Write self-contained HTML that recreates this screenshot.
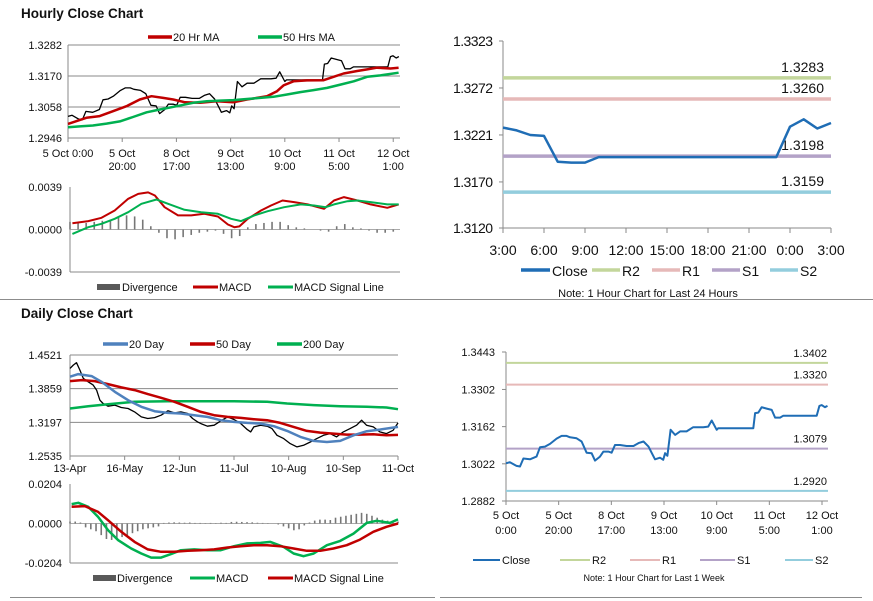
<!DOCTYPE html>
<html><head><meta charset="utf-8"><style>
html,body{margin:0;padding:0;background:#fff;}
svg{display:block;font-family:"Liberation Sans",Arial,sans-serif;}
</style></head><body>
<svg id="root" width="873" height="601" viewBox="0 0 873 601" xmlns="http://www.w3.org/2000/svg">
<rect x="0" y="0" width="873" height="601" fill="#fff"/>
<line x1="0" y1="299.5" x2="873" y2="299.5" stroke="#8c8c8c" stroke-width="1"/>
<line x1="10" y1="597.5" x2="435" y2="597.5" stroke="#8c8c8c" stroke-width="1"/>
<line x1="440" y1="597.5" x2="862" y2="597.5" stroke="#8c8c8c" stroke-width="1"/>
<text x="21" y="18" font-size="13.5" font-weight="bold" fill="#111">Hourly Close Chart</text>
<text x="21" y="318" font-size="13.5" font-weight="bold" fill="#111">Daily Close Chart</text>
<g id="charts"></g>
</svg>
<script>
// ===== Hourly (1 week) data =====
const weekHours = [0,1.5,4,5.3,6.6,9.1,11.6,12.9,14.8,16.7,19.2,21.1,23,24.3,26.8,28.7,30.6,32.5,33.8,35.7,37,38.9,40.1,41.4,43.3,45.8,48.4,50.3,52.2,54.1,55.3,56.6,58.5,59.7,60.4,61.3,62.5,64.2,66.1,68.6,71.1,74.9,76.8,78.1,80,80.6,85.1,93.9,94.6,95.8,97.1,99,100.9,102.2,104.1,105.3,110.4,118,119,119.9,121.1,122.1];
const weekClose = [1.3024,1.3028,1.3014,1.3012,1.3042,1.3039,1.3049,1.3084,1.3087,1.3097,1.3117,1.3127,1.3127,1.3122,1.3118,1.3106,1.3064,1.3062,1.3034,1.3049,1.3068,1.3068,1.3064,1.3093,1.3093,1.3089,1.3089,1.3100,1.3106,1.3087,1.3064,1.3039,1.3045,1.3037,1.3062,1.3052,1.3150,1.3131,1.3144,1.3144,1.3160,1.3160,1.3162,1.3185,1.3150,1.3156,1.3156,1.3156,1.3213,1.3215,1.3235,1.3230,1.3225,1.3196,1.3196,1.3203,1.3203,1.3203,1.3240,1.3243,1.3235,1.3240];
const weekTickLabels = [["5 Oct","0:00"],["5 Oct","20:00"],["8 Oct","17:00"],["9 Oct","13:00"],["10 Oct","9:00"],["11 Oct","5:00"],["12 Oct","1:00"]];
const weekTickHours = [0,20,40,60,80,100,120];
const ma20Hours = [0,6.8,11.7,16.6,21.6,26.5,30.8,35.1,38.8,43.2,48.7,54.9,61,66,69.7,73.4,77.1,79.5,83.2,88.2,94.3,98,101.7,106.7,110.4,114,119,122];
const ma20Vals = [1.2997,1.3019,1.3025,1.3043,1.3061,1.3085,1.3097,1.3091,1.3085,1.3075,1.3073,1.3079,1.3075,1.3085,1.3091,1.3097,1.3115,1.3136,1.3151,1.3154,1.3155,1.3167,1.3179,1.3188,1.3194,1.3200,1.3197,1.3200];
const ma50Hours = [0,4.3,9.2,14.2,19.1,24,29,33.9,40.1,46.2,51.2,56.1,61,66,70.9,75.8,80.8,85.7,90.6,95.6,100.5,105.4,110.4,115.3,122];
const ma50Vals = [1.2985,1.2988,1.2991,1.2998,1.3006,1.3022,1.3039,1.3049,1.3061,1.3073,1.3079,1.3081,1.3083,1.3087,1.3091,1.3095,1.3103,1.3112,1.3119,1.3127,1.3139,1.3151,1.3167,1.3172,1.3182];
const hMacdHours = [0.9,6.8,11.7,16.6,21.6,25.3,29,31.5,35.1,40.1,45,49.9,54.9,58.6,61,62.9,66,70.9,74.6,78.9,83.2,88.2,94.3,98,101.7,106.7,111.6,117.8,122];
const hMacdVals = [.00058,.00077,.00107,.00174,.00282,.00327,.0034,.00312,.00205,.00129,.00129,.00144,.00119,.00046,.00021,.00028,.00098,.00174,.0022,.00266,.00251,.0023,.0019,.00266,.00297,.00266,.0023,.00199,.0023];
const hSigHours = [0.9,6.8,11.7,16.6,21.6,26.5,32.1,36.4,42.5,48.7,54.9,59.8,63.5,68.4,73.4,79.5,85.7,90.6,94.9,98,103,106.7,111.6,117.8,122];
const hSigVals = [-.0004,.00021,.00052,.00098,.00159,.00236,.00275,.00236,.00181,.00159,.00144,.00098,.00077,.00129,.00168,.00205,.0023,.0022,.00205,.0023,.0026,.00266,.00251,.0023,.0023];
const hDivVals = [.0007,.0006,.0006,.0007,.0008,.0009,.0011,.0013,.0012,.0009,.0003,-.0003,-.0008,-.0009,-.0007,-.0005,-.0003,-.0002,-.0001,-.0004,-.0008,-.0006,.0002,.0005,.0006,.0007,.0007,.0004,.0002,.0001,0,-.0001,-.0002,.0003,.0005,.0002,.0001,-.0001,-.0003,-.0003,-.0002];
// ===== 24h data =====
const dayHourLabels = ["3:00","6:00","9:00","12:00","15:00","18:00","21:00","0:00","3:00"];
const dayClose = [1.3229,1.3226,1.3221,1.3220,1.3192,1.3191,1.3191,1.3197,1.3197,1.3197,1.3197,1.3197,1.3197,1.3197,1.3197,1.3197,1.3197,1.3197,1.3197,1.3197,1.3197,1.3230,1.3238,1.3228,1.3234];
const levelNames = ["R2","R1","S1","S2"];
const dayLevels = [1.3283,1.3260,1.3198,1.3159];
const weekLevels = [1.3402,1.3320,1.3079,1.2920];
// ===== Daily data =====
const dailyTickLabels = ["13-Apr","16-May","12-Jun","11-Jul","10-Aug","10-Sep","11-Oct"];
const dailyTickDays = [0,21,42,63,84,105,126];
const dCloseDays = [0,1.3,2.5,3.8,5.1,7,8.9,10.2,11.5,12.7,14.6,17.2,19.7,22.3,24.8,27.4,29.9,32.5,35,37.6,40.1,42.6,45.2,47.1,49,50.3,52.8,55.4,57.9,60.5,63,65.6,68.1,69.4,70.6,73.2,75.7,77.6,79.5,82.1,84.6,87.2,89.7,92.3,94.8,97.4,99.9,102.4,105,107.6,110.1,112,113.9,116.5,119,121.6,124.1,126];
const dCloseVals = [1.4258,1.4324,1.4370,1.4225,1.4061,1.3995,1.3929,1.3831,1.3633,1.3567,1.3515,1.3535,1.3489,1.3469,1.3403,1.3304,1.3272,1.3291,1.3337,1.3423,1.3383,1.3403,1.3370,1.3272,1.3206,1.3173,1.3120,1.3140,1.3225,1.3304,1.3252,1.3173,1.3055,1.3009,1.3107,1.3140,1.3120,1.3074,1.2943,1.2877,1.2778,1.2713,1.2746,1.2811,1.2877,1.2943,1.2976,1.2910,1.3009,1.3074,1.3140,1.3239,1.3140,1.3107,1.3009,1.2976,1.3041,1.3186];
const d20Days = [0,3.2,8.3,12.1,17.2,22.3,27.4,32.5,37.6,42.6,47.7,52.8,57.9,63,68.1,73.2,78.3,83.4,88.5,93.6,98.7,103.8,108.9,114,119,126];
const d20Vals = [1.4094,1.4146,1.4107,1.3995,1.3798,1.3633,1.3502,1.3416,1.3383,1.3370,1.3337,1.3304,1.3239,1.3206,1.3186,1.3173,1.3120,1.3028,1.2910,1.2831,1.2811,1.2831,1.2943,1.3022,1.3055,1.3107];
const d50Days = [0,4.5,9.5,14.6,19.7,24.8,29.9,35,40.1,45.2,50.3,55.4,60.5,65.6,70.6,75.7,80.8,85.9,91,96.1,101.2,106.3,111.4,116.5,121.6,126];
const d50Vals = [1.4008,1.4028,1.4008,1.3949,1.3883,1.3831,1.3752,1.3679,1.3600,1.3502,1.3403,1.3337,1.3304,1.3285,1.3258,1.3239,1.3186,1.3107,1.3028,1.2995,1.2976,1.2956,1.2956,1.2962,1.2943,1.2949];
const d200Days = [0,7,14.6,24.8,37.6,50.3,63,75.7,83.4,93.6,103.8,114,121.6,126];
const d200Vals = [1.3469,1.3515,1.3554,1.3600,1.3613,1.3613,1.3613,1.3600,1.3567,1.3535,1.3515,1.3502,1.3489,1.3456];
const dMacdDays = [.6,3.2,7,10.8,14.6,18.5,23.5,27.4,31.2,35,38.8,42.6,47.7,52.8,57.9,63,68.1,73.2,77,82.1,85.9,89.7,93.6,98.7,103.8,108.9,114,117.8,122.9,126];
const dMacdVals = [.0100,.0107,.0086,.0034,-.0034,-.0086,-.0129,-.0155,-.0176,-.0176,-.0158,-.0138,-.0134,-.0138,-.0138,-.0117,-.0103,-.0100,-.0095,-.0121,-.0155,-.0169,-.0155,-.0112,-.0090,-.0052,.0003,.0014,.0003,.0021];
const dSigDays = [.6,5.7,10.8,14.6,19.7,24.8,29.9,35,40.1,45.2,50.3,55.4,60.5,65.6,70.6,75.7,80.8,85.9,91,96.1,101.2,106.3,111.4,116.5,121.6,126];
const dSigVals = [.0086,.0090,.0060,.0017,-.0043,-.0095,-.0134,-.0146,-.0146,-.0141,-.0138,-.0134,-.0124,-.0117,-.0112,-.0112,-.0117,-.0129,-.0141,-.0141,-.0129,-.0112,-.0083,-.0043,-.0017,0];
const dDivVals = [.001,.001,.0005,-.002,-.003,-.004,-.006,-.008,-.0085,-.008,-.007,-.006,-.005,-.004,-.003,-.0025,-.002,-.0015,.0003,.0005,.0006,.0005,.0004,.0005,.0003,.0003,.0002,.0003,.0002,.0004,.0003,.0008,.0009,.0008,.0007,.0006,.0004,.0003,.0002,0,-.0005,-.0015,-.0025,-.0035,-.003,-.001,.0005,.0015,.002,.002,.0018,.003,.0035,.004,.0045,.005,.0055,.005,.004,.003,.002,.0015,.001,.001];

const NS = "http://www.w3.org/2000/svg";
const root = document.getElementById('charts');
function mk(tag, attrs, parent) {
  const e = document.createElementNS(NS, tag);
  for (const k in attrs) e.setAttribute(k, attrs[k]);
  (parent || root).appendChild(e);
  return e;
}
function txt(x, y, s, size, anchor, parent) {
  const t = mk('text', {x: x, y: y, 'font-size': size, 'text-anchor': anchor || 'start', fill: '#111'}, parent);
  t.textContent = s;
  return t;
}
function path(xs, ys, sx, sy, color, w, parent) {
  let d = '';
  for (let i = 0; i < xs.length; i++) d += (i ? 'L' : 'M') + sx(xs[i]).toFixed(1) + ',' + sy(ys[i]).toFixed(1);
  return mk('path', {d: d, fill: 'none', stroke: color, 'stroke-width': w, 'stroke-linejoin': 'round'}, parent);
}
function lin(d0, d1, r0, r1) { return v => r0 + (v - d0) / (d1 - d0) * (r1 - r0); }
function legendLine(x1, x2, y, color, w, label, parent) {
  const l = mk('line', {x1: x1, y1: y, x2: x2, y2: y, stroke: color, 'stroke-width': w}, parent);
  
  
  const t = txt(x2 + 1, y + 4, label, 11, 'start', parent);
  
  
}
const GRID = '#8a8a8a';

// ===== Chart 1: hourly close (top-left) =====
(function(){
  const g = mk('g', {});
  
  
  const sx = lin(0, 122.5, 68, 400), sy = lin(1.2946, 1.3282, 138, 45);
  const ticks = [1.3282, 1.3170, 1.3058, 1.2946];
  ticks.forEach(v => {
    const l = mk('line', {x1: 68, x2: 400, y1: sy(v), y2: sy(v), stroke: GRID, 'stroke-width': 1}, g);
    
    
    const t = txt(62, sy(v) + 4, v.toFixed(4), 11, 'end', g);
    
    
  });
  mk('line', {x1: 68, x2: 68, y1: 45, y2: 138, stroke: GRID}, g);
  weekTickHours.forEach((h, i) => {
    mk('line', {x1: sx(h), x2: sx(h), y1: 138, y2: 142, stroke: GRID}, g);
    if (i === 0) {
      const t = txt(sx(h), 157, weekTickLabels[i][0] + ' ' + weekTickLabels[i][1], 11, 'middle', g);
      
      
    } else {
      const t = txt(sx(h), 157, weekTickLabels[i][0], 11, 'middle', g);
      
      
      txt(sx(h), 170, weekTickLabels[i][1], 11, 'middle', g);
    }
  });
  const c = path(weekHours, weekClose, sx, sy, '#000', 1.3, g);
  
  
  const r = path(ma20Hours, ma20Vals, sx, sy, '#c00000', 2.5, g);
  
  
  const gr = path(ma50Hours, ma50Vals, sx, sy, '#00b050', 2.5, g);
  
  
  legendLine(148, 172, 37, '#c00000', 3.5, '20 Hr MA', g);
  legendLine(258, 282, 37, '#00b050', 3.5, '50 Hrs MA', g);

  // MACD panel
  const my = lin(-0.0039, 0.0039, 272, 187), mx = lin(0, 122.5, 70, 400);
  [0.0039, 0, -0.0039].forEach(v => {
    const t = txt(62, my(v) + 4, v.toFixed(4), 11, 'end', g);
    
    
  });
  mk('line', {x1: 70, x2: 70, y1: 187, y2: 272, stroke: GRID}, g);
  mk('line', {x1: 70, x2: 400, y1: 272, y2: 272, stroke: GRID}, g);
  mk('line', {x1: 70, x2: 400, y1: my(0), y2: my(0), stroke: '#aaa'}, g);
  hDivVals.forEach((v, i) => {
    const x = mx(i * 3), y0 = my(0), y1 = my(v);
    const b = mk('rect', {x: x - 0.8, y: Math.min(y0, y1), width: 1.6, height: Math.abs(y1 - y0), fill: '#777'}, g);
    
    
  });
  const m = path(hMacdHours, hMacdVals, mx, my, '#c00000', 2, g);
  
  
  const s = path(hSigHours, hSigVals, mx, my, '#00b050', 2, g);
  
  
  const sw = mk('rect', {x: 97, y: 284, width: 23, height: 6, fill: '#595959'}, g);
  
  
  txt(122, 291, 'Divergence', 11, 'start', g);
  legendLine(193, 218, 287, '#c00000', 3, 'MACD', g);
  legendLine(268, 293, 287, '#00b050', 3, 'MACD Signal Line', g);
})();

// ===== Chart 2: 24h (top-right) =====
(function(){
  const g = mk('g', {});
  
  
  const sx = lin(0, 24, 503, 831), sy = lin(1.3120, 1.3323, 228, 41);
  [1.3323, 1.3272, 1.3221, 1.3170, 1.3120].forEach(v => {
    mk('line', {x1: 499, x2: 503, y1: sy(v), y2: sy(v), stroke: GRID}, g);
    const t = txt(493, sy(v) + 5, v.toFixed(4), 14, 'end', g);
    
    
    t.setAttribute('textLength', '40');
  });
  mk('line', {x1: 503, x2: 503, y1: 41, y2: 228, stroke: GRID}, g);
  mk('line', {x1: 503, x2: 831, y1: 228, y2: 228, stroke: GRID}, g);
  dayHourLabels.forEach((s, i) => {
    const x = sx(i * 3);
    mk('line', {x1: x, x2: x, y1: 228, y2: 233, stroke: GRID}, g);
    const t = txt(x, 255, s, 14, 'middle', g);
    
    
  });
  const cols = ['#c3d69b', '#e6b9b8', '#b3a2c7', '#93cddd'];
  dayLevels.forEach((v, i) => {
    const l = mk('line', {x1: 503, x2: 831, y1: sy(v), y2: sy(v), stroke: cols[i], 'stroke-width': 3.5}, g);
    
    
    const t = txt(824, sy(v) - 6, v.toFixed(4), 14, 'end', g);
    
    
  });
  const c = path(dayClose.map((v, i) => i), dayClose, sx, sy, '#1f6db5', 2.5, g);
  
  
  const lg = [[521,550,'#1f6db5','Close'],[592,620,cols[0],'R2'],[652,680,cols[1],'R1'],[712,740,cols[2],'S1'],[770,798,cols[3],'S2']];
  lg.forEach(a => {
    const l = mk('line', {x1: a[0], x2: a[1], y1: 270, y2: 270, stroke: a[2], 'stroke-width': 3.5}, g);
    
    
    const t = txt(a[1] + 2, 276, a[3], 14, 'start', g);
    
    
  });
  const n = txt(648, 297, 'Note: 1 Hour Chart for Last 24 Hours', 11, 'middle', g);
  
  
})();

// ===== Chart 3: daily (bottom-left) =====
(function(){
  const g = mk('g', {});
  
  
  const sx = lin(0, 126, 70, 398), sy = lin(1.2535, 1.4521, 456, 355);
  [1.4521, 1.3859, 1.3197, 1.2535].forEach(v => {
    const l = mk('line', {x1: 70, x2: 398, y1: sy(v), y2: sy(v), stroke: GRID}, g);
    
    
    const t = txt(62, sy(v) + 4, v.toFixed(4), 11, 'end', g);
    
    
  });
  mk('line', {x1: 70, x2: 70, y1: 355, y2: 456, stroke: GRID}, g);
  dailyTickDays.forEach((d, i) => {
    mk('line', {x1: sx(d), x2: sx(d), y1: 456, y2: 460, stroke: GRID}, g);
    const t = txt(sx(d), 472, dailyTickLabels[i], 11, 'middle', g);
    
    
  });
  const c = path(dCloseDays, dCloseVals, sx, sy, '#000', 1.3, g);
  
  
  const a = path(d200Days, d200Vals, sx, sy, '#00b050', 2.5, g);
  
  
  const b = path(d50Days, d50Vals, sx, sy, '#c00000', 2.5, g);
  
  
  const bl = path(d20Days, d20Vals, sx, sy, '#4f81bd', 2.5, g);
  
  
  legendLine(103, 128, 344, '#4f81bd', 3.5, '20 Day', g);
  legendLine(190, 215, 344, '#c00000', 3.5, '50 Day', g);
  legendLine(277, 302, 344, '#00b050', 3.5, '200 Day', g);

  const my = lin(-0.0204, 0.0204, 563, 484);
  [0.0204, 0, -0.0204].forEach(v => {
    const t = txt(62, my(v) + 4, v.toFixed(4), 11, 'end', g);
    
    
  });
  mk('line', {x1: 70, x2: 70, y1: 484, y2: 563, stroke: GRID}, g);
  mk('line', {x1: 70, x2: 398, y1: 563, y2: 563, stroke: GRID}, g);
  mk('line', {x1: 70, x2: 398, y1: my(0), y2: my(0), stroke: '#aaa'}, g);
  dDivVals.forEach((v, i) => {
    const x = sx(i * 2), y0 = my(0), y1 = my(v);
    const r = mk('rect', {x: x - 0.8, y: Math.min(y0, y1), width: 1.6, height: Math.abs(y1 - y0), fill: '#777'}, g);
    
    
  });
  const m = path(dMacdDays, dMacdVals, sx, my, '#00b050', 2.5, g);
  
  
  const s = path(dSigDays, dSigVals, sx, my, '#c00000', 2.5, g);
  
  
  const sw = mk('rect', {x: 93, y: 575, width: 23, height: 6, fill: '#595959'}, g);
  
  
  txt(117, 582, 'Divergence', 11, 'start', g);
  legendLine(190, 215, 578, '#00b050', 3, 'MACD', g);
  legendLine(268, 293, 578, '#c00000', 3, 'MACD Signal Line', g);
})();

// ===== Chart 4: 1 week (bottom-right) =====
(function(){
  const g = mk('g', {});
  
  
  const sx = lin(0, 120, 506, 822), sy = lin(1.2882, 1.3443, 501, 352);
  [1.3443, 1.3302, 1.3162, 1.3022, 1.2882].forEach(v => {
    mk('line', {x1: 502, x2: 506, y1: sy(v), y2: sy(v), stroke: GRID}, g);
    const t = txt(495, sy(v) + 4, v.toFixed(4), 11, 'end', g);
    
    
  });
  mk('line', {x1: 506, x2: 506, y1: 352, y2: 501, stroke: GRID}, g);
  mk('line', {x1: 506, x2: 828, y1: 501, y2: 501, stroke: GRID}, g);
  weekTickHours.forEach((h, i) => {
    mk('line', {x1: sx(h), x2: sx(h), y1: 501, y2: 505, stroke: GRID}, g);
    const t = txt(sx(h), 519, weekTickLabels[i][0], 11, 'middle', g);
    
    
    txt(sx(h), 534, weekTickLabels[i][1], 11, 'middle', g);
  });
  const cols = ['#c3d69b', '#e6b9b8', '#b3a2c7', '#93cddd'];
  weekLevels.forEach((v, i) => {
    const l = mk('line', {x1: 506, x2: 828, y1: sy(v), y2: sy(v), stroke: cols[i], 'stroke-width': 2}, g);
    
    
    const t = txt(827, sy(v) - 6, v.toFixed(4), 11, 'end', g);
    
    
  });
  const c = path(weekHours, weekClose, sx, sy, '#1f6db5', 2, g);
  
  
  const lg = [[473,500,'#1f6db5','Close'],[560,590,cols[0],'R2'],[630,660,cols[1],'R1'],[700,735,cols[2],'S1'],[785,813,cols[3],'S2']];
  lg.forEach(a => {
    const l = mk('line', {x1: a[0], x2: a[1], y1: 560, y2: 560, stroke: a[2], 'stroke-width': 2}, g);
    
    
    const t = txt(a[1] + 2, 564, a[3], 11, 'start', g);
    
    
  });
  const n = txt(654, 581, 'Note: 1 Hour Chart for Last 1 Week', 9, 'middle', g);
  
  
})();
</script>
</body></html>
